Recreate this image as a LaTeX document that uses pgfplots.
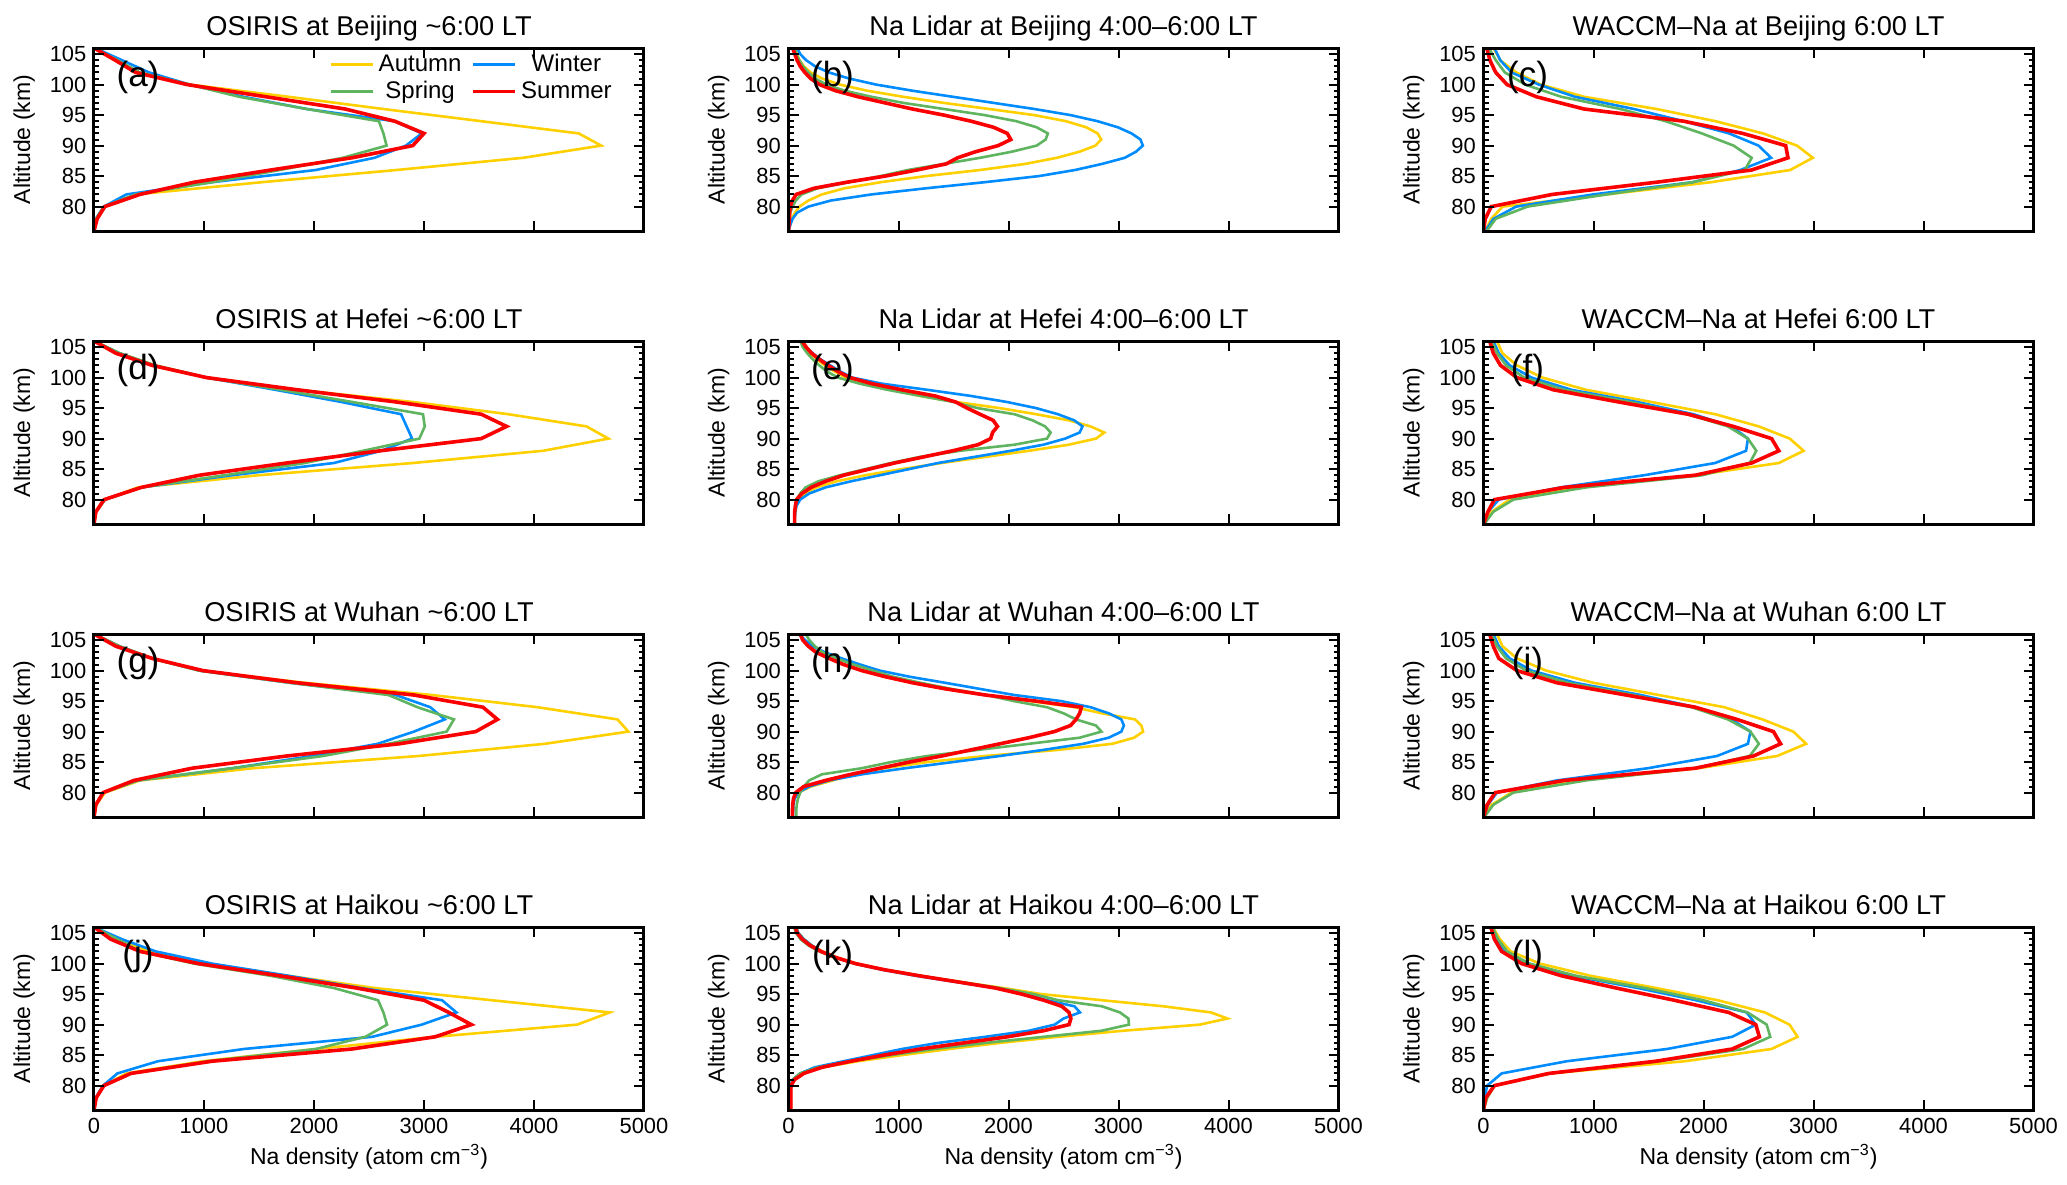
\documentclass[11pt,border=0pt]{standalone}
\usepackage{fontspec}
\setmainfont{Liberation Sans}
\usepackage{pgfplots}
\usepackage{pgfplotstable}
\pgfplotsset{compat=1.18}

\definecolor{cAut}{RGB}{255,208,0}
\definecolor{cWin}{RGB}{0,140,255}
\definecolor{cSpr}{RGB}{95,180,95}
\definecolor{cSum}{RGB}{250,0,0}

% OSIRIS, 2 km
\pgfplotstableread{
alt aut win spr sum
106 0 8 0 0
104 190 254 213 193
102 380 500 418 377
100 870 869 869 848
98 1770 1360 1320 1566
96 2630 1934 1934 2283
94 3520 2734 2590 2734
92 4406 2980 2631 3000
90 4611 2836 2660 2898
88 3902 2550 2262 2344
86 2750 2016 1690 1607
84 1525 1074 1074 910
82 380 295 377 418
80 90 90 90 98
78 20 16 20 29
76 0 0 0 0
}\OsBJ
\pgfplotstableread{
alt aut win spr sum
106 0 0 0 0
104 231 231 231 198
102 562 550 550 529
100 1024 1024 1024 1024
98 1850 1650 1700 1850
96 2900 2250 2350 2750
94 3767 2792 2991 3520
92 4478 2842 3007 3751
90 4676 2892 2958 3520
88 4081 2611 2446 2600
86 2900 2181 1917 1750
84 1500 1256 1190 958
82 400 430 430 430
80 100 99 99 92
78 20 17 17 17
76 0 0 0 0
}\OsHF
\pgfplotstableread{
alt aut win spr sum
106 0 0 0 0
104 231 231 231 198
102 529 529 529 529
100 958 958 958 991
98 1917 1785 1785 1850
96 3073 2743 2677 2908
94 4032 3057 2941 3536
92 4759 3189 3272 3668
90 4858 2908 3206 3470
88 4098 2578 2677 2776
86 2950 1983 2082 1751
84 1450 1256 1256 892
82 420 397 397 364
80 100 83 83 83
78 20 17 17 17
76 0 0 0 0
}\OsWH
\pgfplotstableread{
alt aut win spr sum
106 0 0 0 0
104 213 254 213 152
102 500 561 418 418
100 1033 1074 910 951
98 1770 1770 1607 1689
96 2550 2426 2180 2385
94 3615 3164 2582 3000
92 4689 3295 2631 3225
90 4393 2980 2664 3430
88 3102 2529 2467 3102
86 2016 1361 2016 2344
84 992 582 1033 1074
82 295 213 336 336
80 90 82 90 90
78 20 16 20 20
76 0 0 0 0
}\OsHK

% Na lidar, 1 km
\pgfplotstableread{
alt aut win spr sum
106 58 78 58 37
105 78 107 70 58
104 99 160 99 78
103 140 242 131 107
102 201 366 181 148
101 304 551 242 201
100 468 797 345 283
99 715 1126 509 427
98 1044 1495 756 633
97 1413 1865 1044 879
96 1824 2235 1413 1126
95 2235 2564 1783 1413
94 2523 2810 2071 1660
93 2707 2995 2256 1865
92 2810 3118 2358 1989
91 2843 3200 2338 2021
90 2790 3221 2256 1906
89 2646 3159 2030 1701
88 2440 3057 1742 1537
87 2153 2851 1413 1434
86 1742 2605 1085 1167
85 1249 2276 838 879
84 838 1783 551 530
83 509 1249 263 230
82 304 756 119 70
81 181 386 66 35
80 99 181 37 16
79 58 78 16 10
78 29 37 8 8
77 16 16 4 4
76 0 0 0 0
}\LiBJ
\pgfplotstableread{
alt aut win spr sum
106 106 112 106 122
105 150 160 130 160
104 200 220 170 210
103 260 290 220 280
102 330 380 280 360
101 420 470 350 450
100 520 580 450 560
99 700 850 650 760
98 931 1261 900 1030
97 1195 1657 1200 1330
96 1525 1987 1500 1520
95 1921 2251 1720 1624
94 2251 2449 2053 1740
93 2548 2597 2218 1860
92 2746 2673 2333 1900
91 2871 2647 2383 1855
90 2795 2515 2350 1838
89 2548 2317 2053 1723
88 2185 2020 1558 1492
87 1789 1690 1195 1228
86 1393 1360 931 964
85 1030 1096 700 733
84 700 832 469 502
83 436 568 271 337
82 254 337 155 205
81 155 188 106 122
80 89 106 73 73
79 66 73 66 63
78 56 63 60 56
77 56 56 56 56
76 56 56 56 56
}\LiHF
\pgfplotstableread{
alt aut win spr sum
106 106 99 155 106
105 140 150 190 130
104 190 220 240 180
103 260 330 310 250
102 370 485 436 370
101 500 650 590 500
100 667 830 766 667
99 880 1100 950 880
98 1129 1425 1200 1129
97 1430 1740 1480 1430
96 1790 2053 1800 1790
95 2200 2480 2050 2250
94 2600 2746 2350 2663
93 2850 2911 2500 2647
92 3150 3026 2614 2614
91 3208 3049 2795 2564
90 3224 3026 2845 2416
89 3142 2911 2647 2185
88 2944 2680 2185 1921
87 2449 2317 1723 1657
86 1789 1921 1261 1393
85 1261 1492 931 1096
84 865 1063 667 832
83 601 667 304 568
82 403 370 188 337
81 205 188 139 139
80 89 89 106 66
79 50 55 86 45
78 42 45 75 38
77 40 42 70 36
76 40 40 70 35
}\LiWH
\pgfplotstableread{
alt aut win spr sum
106 66 66 50 60
105 90 90 70 80
104 140 140 110 125
103 210 210 180 195
102 310 300 280 295
101 440 430 420 430
100 620 600 600 610
99 880 850 870 870
98 1200 1160 1200 1190
97 1560 1520 1560 1540
96 1950 1880 1920 1880
95 2300 2150 2230 2120
94 2850 2350 2450 2320
93 3410 2600 2850 2485
92 3840 2650 3013 2550
91 3990 2500 3090 2567
90 3740 2420 3095 2551
89 3046 2187 2848 2319
88 2451 1790 2319 1989
87 1922 1361 1790 1592
86 1460 1031 1328 1196
85 1031 766 932 866
84 634 502 568 568
83 304 238 271 304
82 106 106 106 139
81 40 40 40 56
80 23 13 23 23
79 20 10 20 20
78 20 8 20 20
77 20 8 20 20
76 20 8 20 20
}\LiHK

% WACCM-Na, 2 km
\pgfplotstableread{
alt aut win spr sum
106 91 99 49 29
104 152 152 111 58
102 297 255 194 111
100 523 502 379 214
98 914 832 708 482
96 1573 1367 1244 914
94 2109 1820 1656 1820
92 2541 2232 1985 2356
90 2850 2500 2273 2747
88 2994 2615 2438 2768
86 2788 2335 2376 2438
84 2068 1903 1903 1573
82 1120 997 1120 626
80 173 297 400 70
78 70 91 111 16
76 16 16 29 0
}\WaBJ
\pgfplotstableread{
alt aut win spr sum
106 122 89 73 56
104 172 139 122 89
102 304 238 205 155
100 536 437 370 304
98 932 800 734 635
96 1528 1396 1329 1230
94 2106 1908 1858 1858
92 2503 2255 2222 2271
90 2784 2404 2404 2619
88 2910 2387 2480 2685
86 2685 2106 2420 2437
84 1925 1462 1991 1925
82 866 701 932 734
80 238 139 271 99
78 73 40 89 40
76 7 0 7 0
}\WaHF
\pgfplotstableread{
alt aut win spr sum
106 122 89 73 56
104 172 139 122 89
102 304 238 205 139
100 569 437 387 304
98 999 833 767 668
96 1594 1429 1362 1296
94 2189 1925 1892 1925
92 2536 2255 2222 2304
90 2817 2427 2427 2636
88 2933 2404 2503 2701
86 2669 2123 2420 2454
84 1958 1495 1925 1925
82 866 668 932 734
80 255 122 271 106
78 73 40 89 33
76 0 0 7 0
}\WaWH
\pgfplotstableread{
alt aut win spr sum
106 83 66 83 66
104 149 116 132 99
102 248 198 215 165
100 512 413 413 347
98 974 809 842 710
96 1568 1403 1469 1205
94 2129 1931 1997 1733
92 2558 2393 2400 2228
90 2782 2475 2574 2475
88 2855 2261 2607 2508
86 2617 1667 2360 2261
84 1832 759 1600 1568
82 611 165 600 594
80 99 33 99 99
78 33 10 33 20
76 0 0 0 0
}\WaHK

\pgfplotsset{
  naframe/.style={
    width=275pt, height=91.5pt, scale only axis,
    anchor=north west,
    axis on top,
    xmin=0, xmax=5000, ymin=76, ymax=106,
    xtick={0,1000,2000,3000,4000,5000}, ytick={80,85,90,95,100,105},
    minor y tick num=4,
    tick align=inside,
    major tick length=5pt, minor tick length=2.5pt,
    tick style={black, line width=1pt},
    axis line style={black, line width=1.5pt},
    /pgf/number format/assume math mode=true,
    /pgf/number format/set thousands separator={},
    label style={font=\fontsize{11.5}{13}\selectfont},
    xlabel style={yshift=2pt},
    ylabel={Altitude (km)},
    title style={font=\fontsize{13.6}{16}\selectfont, at={(0.5,1)}, anchor=base, yshift=0.5pt},
  },
  upperrow/.style={xticklabels={}},
  lastrow/.style={
    xlabel={Na density (atom cm\textsuperscript{−3})},
  },
}

\newcommand{\seasonprofiles}[1]{%
  \addplot[cAut, line width=1.3pt] table[x=aut, y=alt] {#1};
  \addplot[cWin, line width=1.3pt] table[x=win, y=alt] {#1};
  \addplot[cSpr, line width=1.3pt] table[x=spr, y=alt] {#1};
  \addplot[cSum, line width=1.8pt] table[x=sum, y=alt] {#1};
}
\newcommand{\panellabel}[1]{\node[font=\fontsize{17.5}{20}\selectfont] at (rel axis cs:0.08,0.84) {(#1)};}

\begin{document}
\begin{tikzpicture}
\path[use as bounding box] (0,0) rectangle (1033.5pt,-592pt);

% row 1
\begin{axis}[naframe, upperrow, at={(47pt,-24pt)}, title={OSIRIS at Beijing \textasciitilde6:00 LT},
  legend columns=2,
  legend style={draw=none, fill=none, at={(0.425,1)}, anchor=north west,
    font=\fontsize{12}{13}\selectfont, inner sep=1pt, row sep=-1pt,
    /tikz/every even column/.append style={column sep=3pt}},
  legend image code/.code={\draw[#1] (0pt,0pt) -- (21pt,0pt);}]
\seasonprofiles{\OsBJ}
\legend{Autumn,Winter,Spring,Summer}
\panellabel{a}
\end{axis}
\begin{axis}[naframe, upperrow, at={(394.25pt,-24pt)}, title={Na Lidar at Beijing 4:00–6:00 LT}]
\seasonprofiles{\LiBJ}
\panellabel{b}
\end{axis}
\begin{axis}[naframe, upperrow, at={(741.75pt,-24pt)}, title={WACCM–Na at Beijing 6:00 LT}]
\seasonprofiles{\WaBJ}
\panellabel{c}
\end{axis}

% row 2
\begin{axis}[naframe, upperrow, at={(47pt,-170.5pt)}, title={OSIRIS at Hefei \textasciitilde6:00 LT}]
\seasonprofiles{\OsHF}
\panellabel{d}
\end{axis}
\begin{axis}[naframe, upperrow, at={(394.25pt,-170.5pt)}, title={Na Lidar at Hefei 4:00–6:00 LT}]
\seasonprofiles{\LiHF}
\panellabel{e}
\end{axis}
\begin{axis}[naframe, upperrow, at={(741.75pt,-170.5pt)}, title={WACCM–Na at Hefei 6:00 LT}]
\seasonprofiles{\WaHF}
\panellabel{f}
\end{axis}

% row 3
\begin{axis}[naframe, upperrow, at={(47pt,-317pt)}, title={OSIRIS at Wuhan \textasciitilde6:00 LT}]
\seasonprofiles{\OsWH}
\panellabel{g}
\end{axis}
\begin{axis}[naframe, upperrow, at={(394.25pt,-317pt)}, title={Na Lidar at Wuhan 4:00–6:00 LT}]
\seasonprofiles{\LiWH}
\panellabel{h}
\end{axis}
\begin{axis}[naframe, upperrow, at={(741.75pt,-317pt)}, title={WACCM–Na at Wuhan 6:00 LT}]
\seasonprofiles{\WaWH}
\panellabel{i}
\end{axis}

% row 4
\begin{axis}[naframe, lastrow, at={(47pt,-463.5pt)}, title={OSIRIS at Haikou \textasciitilde6:00 LT}]
\seasonprofiles{\OsHK}
\panellabel{j}
\end{axis}
\begin{axis}[naframe, lastrow, at={(394.25pt,-463.5pt)}, title={Na Lidar at Haikou 4:00–6:00 LT}]
\seasonprofiles{\LiHK}
\panellabel{k}
\end{axis}
\begin{axis}[naframe, lastrow, at={(741.75pt,-463.5pt)}, title={WACCM–Na at Haikou 6:00 LT}]
\seasonprofiles{\WaHK}
\panellabel{l}
\end{axis}
\end{tikzpicture}
\end{document}
